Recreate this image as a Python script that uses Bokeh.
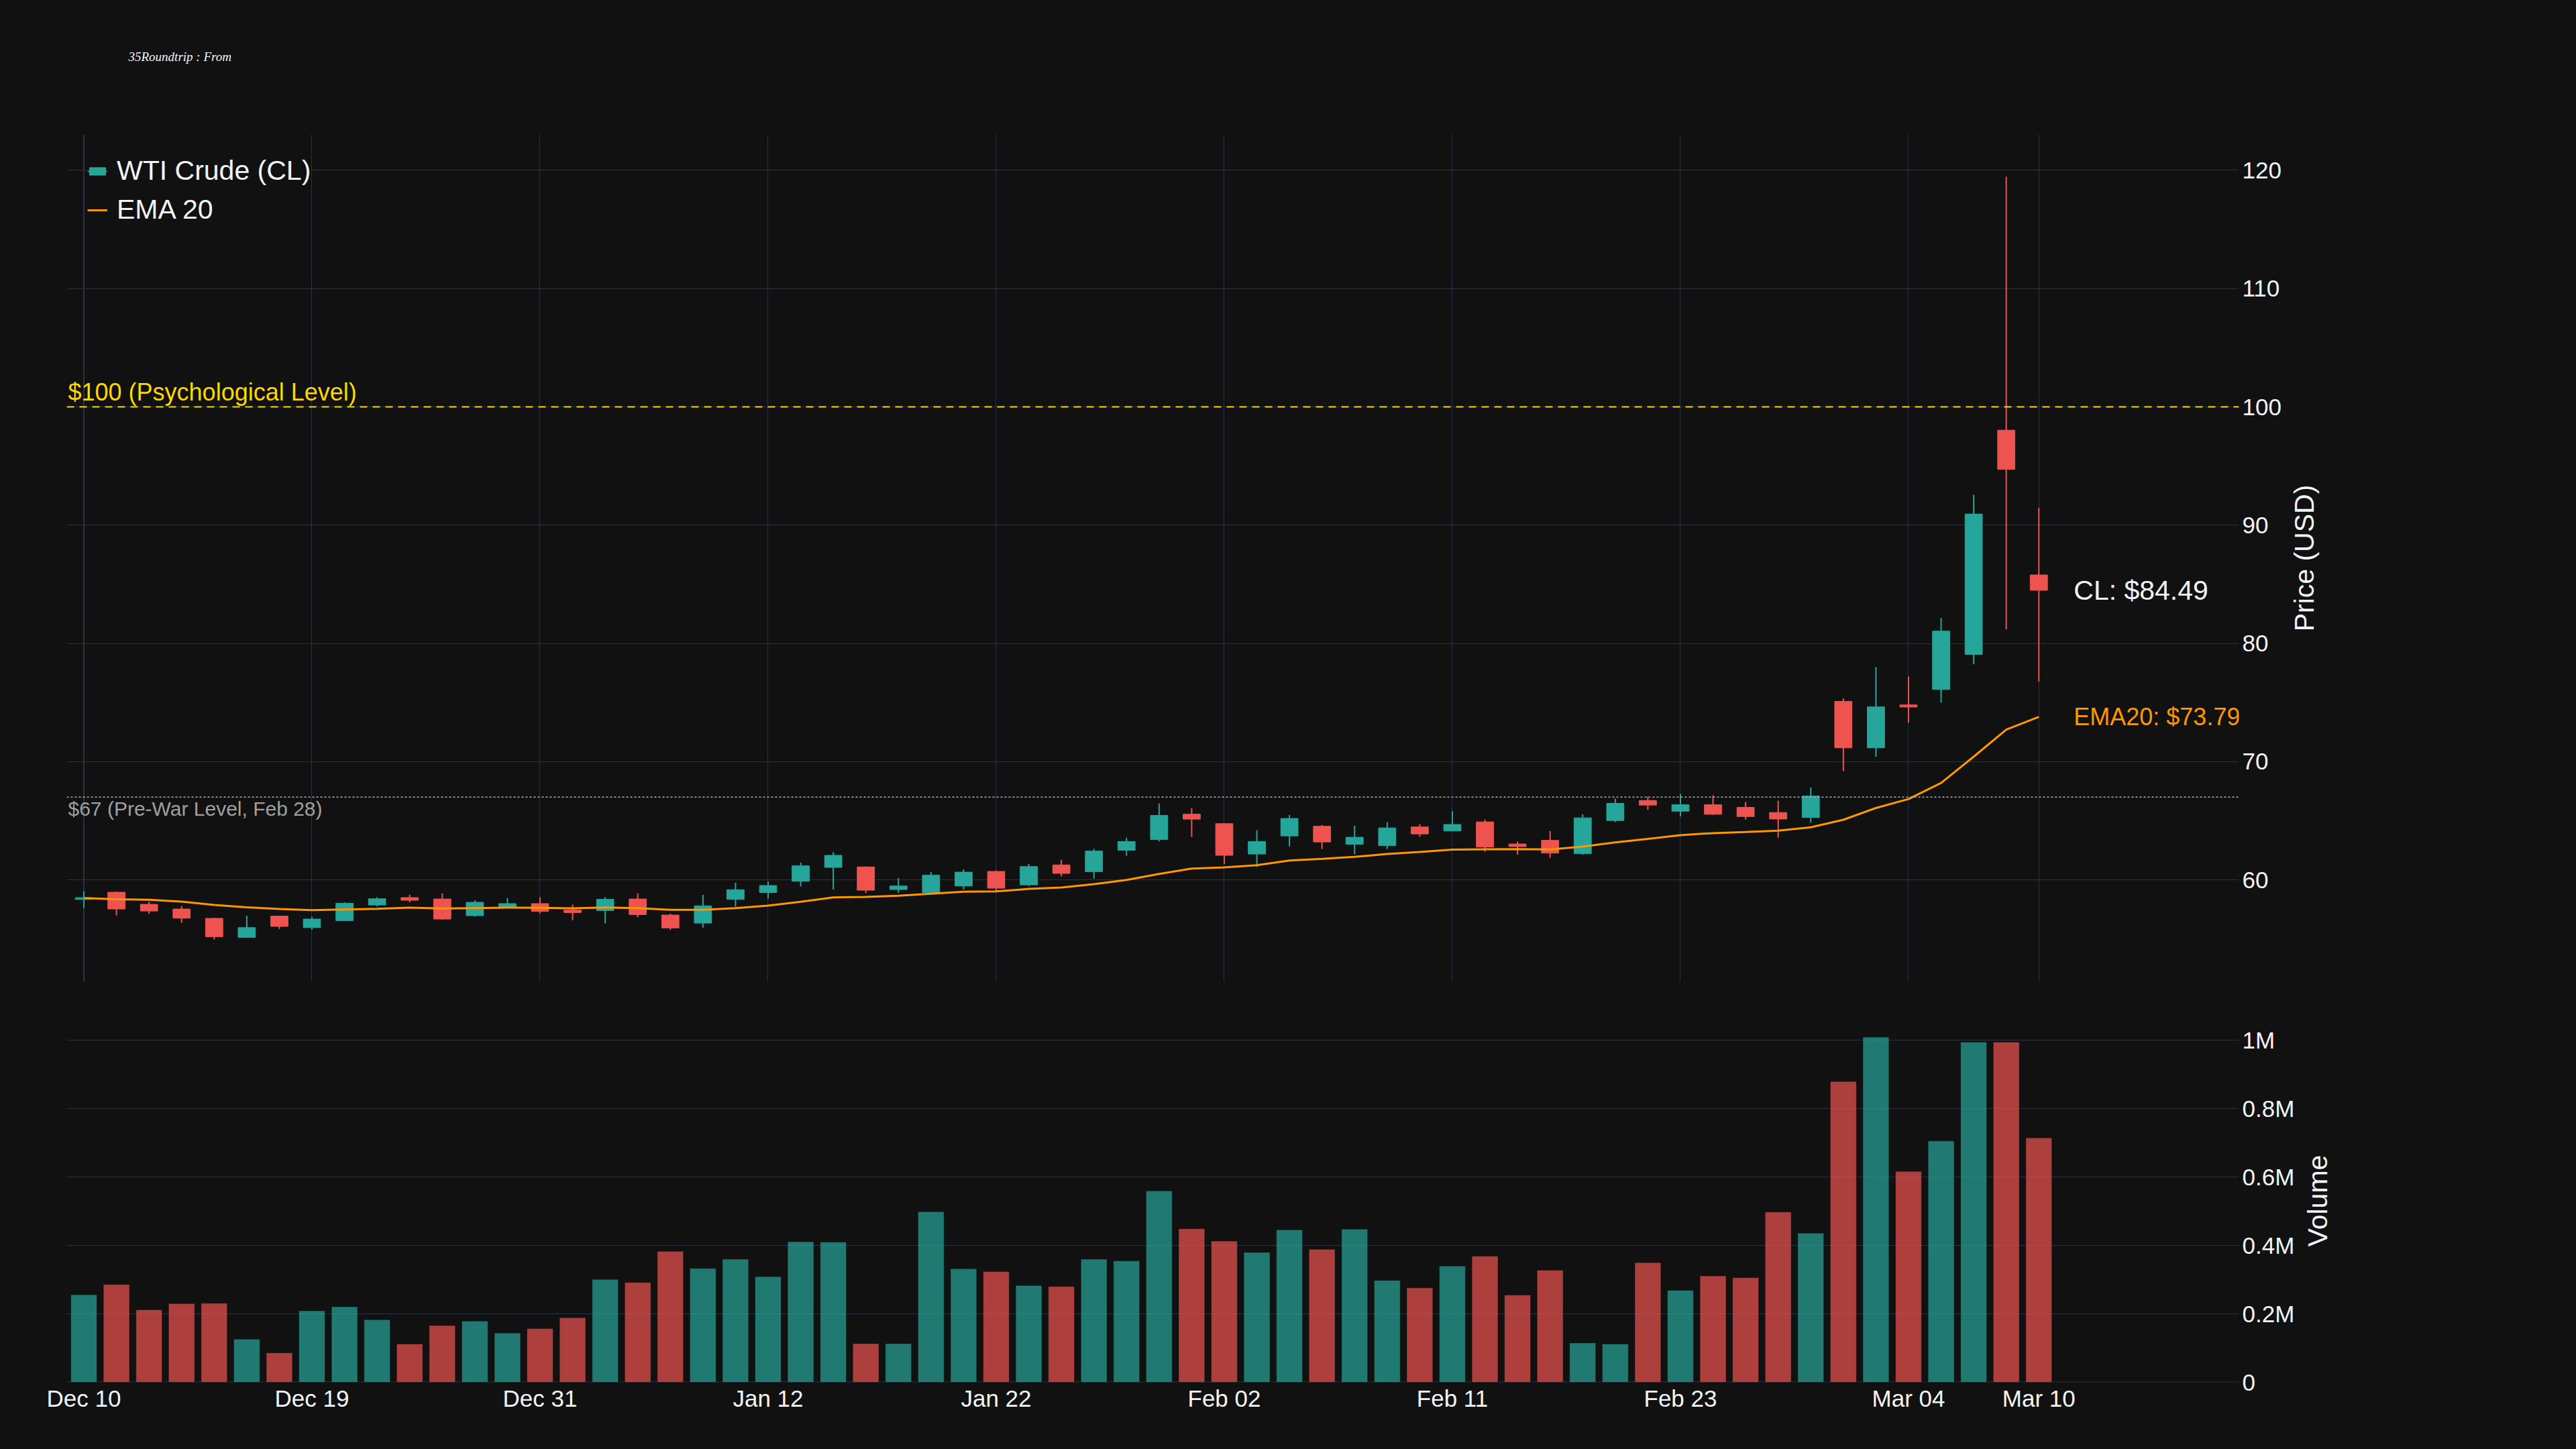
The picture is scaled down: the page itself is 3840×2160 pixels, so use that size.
import math
from datetime import datetime

from bokeh.plotting import figure
from bokeh.models import (Range1d, FixedTicker, Span, Label, Legend,
                          LegendItem, ColumnDataSource)
from bokeh.layouts import column
from bokeh.embed import file_html
from bokeh.resources import INLINE

# ---------------- data ----------------
dates = [
    "2025-12-10", "2025-12-11", "2025-12-12", "2025-12-15", "2025-12-16", "2025-12-17", "2025-12-18", "2025-12-19",
    "2025-12-22", "2025-12-23", "2025-12-24", "2025-12-26", "2025-12-29", "2025-12-30", "2025-12-31",
    "2026-01-02", "2026-01-05", "2026-01-06", "2026-01-07", "2026-01-08", "2026-01-09", "2026-01-12",
    "2026-01-13", "2026-01-14", "2026-01-15", "2026-01-16", "2026-01-20", "2026-01-21", "2026-01-22",
    "2026-01-23", "2026-01-26", "2026-01-27", "2026-01-28", "2026-01-29", "2026-01-30", "2026-02-02",
    "2026-02-03", "2026-02-04", "2026-02-05", "2026-02-06", "2026-02-09", "2026-02-10", "2026-02-11",
    "2026-02-12", "2026-02-13", "2026-02-17", "2026-02-18", "2026-02-19", "2026-02-20", "2026-02-23",
    "2026-02-24", "2026-02-25", "2026-02-26", "2026-02-27", "2026-03-02", "2026-03-03", "2026-03-04",
    "2026-03-05", "2026-03-06", "2026-03-09", "2026-03-10",
]

opens = [58.35, 58.96, 57.94, 57.54, 56.75, 55.14, 56.94, 55.97, 56.56, 57.88,
         58.51, 58.39, 56.98, 57.66, 58.00, 57.45, 57.41, 58.39, 57.03, 56.35,
         58.36, 58.94, 59.89, 61.06, 61.10, 59.19, 58.94, 59.49, 60.72, 59.58,
         61.27, 60.70, 62.51, 63.42, 65.56, 64.76, 62.19, 63.72, 64.54, 63.02,
         62.91, 64.48, 64.14, 64.91, 63.04, 63.35, 62.23, 65.02, 66.72, 65.81,
         66.36, 66.14, 65.70, 65.28, 75.10, 71.17, 74.80, 76.10, 79.06, 98.03,
         85.79]
highs = [59.05, 59.00, 58.17, 57.79, 56.80, 56.98, 56.96, 56.88, 58.11, 58.54,
         58.75, 58.87, 58.28, 58.47, 58.53, 57.92, 58.53, 58.87, 57.15, 58.73,
         59.75, 59.89, 61.47, 62.34, 61.15, 60.17, 60.68, 60.89, 60.81, 61.36,
         61.70, 62.63, 63.57, 66.47, 66.09, 64.80, 64.20, 65.50, 64.65, 64.59,
         64.88, 64.71, 65.82, 65.10, 63.25, 64.13, 65.55, 66.88, 67.05, 67.27,
         67.16, 66.59, 66.70, 67.82, 75.35, 78.00, 77.20, 82.15, 92.56, 119.45,
         91.46]
lows = [57.65, 57.00, 57.13, 56.37, 54.97, 55.10, 55.86, 55.80, 56.55, 57.75,
        58.11, 56.63, 56.90, 57.65, 57.18, 56.60, 56.31, 56.84, 55.77, 55.97,
        57.73, 58.43, 59.45, 59.19, 58.89, 58.92, 58.73, 59.21, 59.05, 59.49,
        60.30, 60.11, 62.04, 63.25, 63.63, 61.36, 61.10, 62.84, 62.61, 62.17,
        62.61, 63.65, 64.13, 62.38, 62.14, 61.88, 62.12, 64.89, 65.93, 65.38,
        65.51, 65.11, 63.58, 64.83, 69.20, 70.42, 73.30, 74.99, 78.24, 81.20,
        76.78]
closes = [58.50, 57.54, 57.37, 56.77, 55.20, 55.97, 56.07, 56.69, 58.03, 58.41,
          58.28, 56.69, 58.11, 58.00, 57.35, 57.24, 58.36, 57.07, 55.94, 57.81,
          59.17, 59.53, 61.19, 62.08, 59.13, 59.49, 60.40, 60.66, 59.30, 61.13,
          60.55, 62.44, 63.25, 65.46, 65.14, 62.08, 63.25, 65.20, 63.21, 63.61,
          64.40, 63.89, 64.69, 62.78, 62.82, 62.27, 65.25, 66.48, 66.33, 66.36,
          65.55, 65.36, 65.15, 67.10, 71.17, 74.63, 74.62, 81.04, 90.94, 94.71,
          84.49]
ema20 = [58.47, 58.37, 58.32, 58.17, 57.88, 57.69, 57.54, 57.45, 57.50, 57.56,
         57.66, 57.58, 57.62, 57.66, 57.64, 57.60, 57.67, 57.62, 57.47, 57.47,
         57.62, 57.83, 58.15, 58.52, 58.57, 58.66, 58.83, 59.00, 59.04, 59.24,
         59.36, 59.64, 60.00, 60.51, 60.96, 61.06, 61.25, 61.64, 61.78, 61.95,
         62.19, 62.36, 62.57, 62.59, 62.61, 62.58, 62.82, 63.18, 63.47, 63.79,
         63.96, 64.05, 64.17, 64.45, 65.09, 66.08, 66.84, 68.20, 70.42, 72.71,
         73.79]
volumes = [256000, 286000, 212000, 230000, 231000, 126000, 86000, 209000, 221000, 183000,
           112000, 166000, 179000, 144000, 157000, 189000, 301000, 292000, 383000, 333000,
           360000, 309000, 411000, 410000, 113000, 113000, 499000, 332000, 324000, 283000,
           280000, 360000, 355000, 560000, 449000, 413000, 380000, 446000, 389000, 448000,
           298000, 276000, 340000, 369000, 255000, 328000, 115000, 112000, 350000, 269000,
           311000, 306000, 498000, 436000, 880000, 1010000, 617000, 706000, 995000, 995000,
           715000]

price_ticks = [60, 70, 80, 90, 100, 110, 120]
volume_ticks = [0, 200000, 400000, 600000, 800000, 1000000]
volume_tick_labels = ["0", "0.2M", "0.4M", "0.6M", "0.8M", "1M"]
psych_level = 100
prewar_level = 67

title_text = "35Roundtrip : From"
legend_price = "WTI Crude (CL)"
legend_ema = "EMA 20"
psych_text = "$100 (Psychological Level)"
prewar_text = "$67 (Pre-War Level, Feb 28)"
price_axis_title = "Price (USD)"
volume_axis_title = "Volume"

# ---------------- style ----------------
BG = "#111111"
TXT = "#f2f5fa"
GRID = "#283442"
INC = "#26a69a"
DEC = "#ef5350"
ORANGE = "#ff9800"
GOLD = "#ffd700"
GRAY = "#a0a0a0"
FONT = "Liberation Sans"

n = len(dates)
idx = list(range(n))
labels = [datetime.strptime(d, "%Y-%m-%d").strftime("%b %d") for d in dates]
tick_idx = list(range(0, n, 7))
if (n - 1) not in tick_idx:
    tick_idx.append(n - 1)

W = 3830
ML = 99
FRAME_W = 3238
MR = W - ML - FRAME_W

x_range = Range1d(-0.525, 66.14)
price_range = Range1d(51.39, 123.03)
volume_range = Range1d(0, 1061800)


def style_right_axis(ax, ticks):
    ax.ticker = FixedTicker(ticks=ticks)
    ax.axis_line_color = None
    ax.major_tick_line_color = None
    ax.minor_tick_line_color = None
    ax.major_tick_out = 0
    ax.major_tick_in = 0
    ax.minor_tick_out = 0
    ax.major_label_text_font = FONT
    ax.major_label_text_font_size = "35px"
    ax.major_label_text_color = TXT
    ax.major_label_standoff = 5


def add_axis_title(fig, text, y_mid):
    # rotated axis title (reads bottom-to-top) placed in the right-hand panel
    fig.add_layout(Label(x=31, x_units="screen", y=y_mid, text=text,
                         angle=math.pi / 2, text_align="center", text_baseline="middle",
                         text_font=FONT, text_font_size="41px", text_color=TXT), "right")


# ---------------- title strip ----------------
# (its frame is aligned with the plot frames below, so x is in page pixels)
TITLE_H = 200
t = figure(width=W, height=TITLE_H, x_range=Range1d(ML, ML + FRAME_W), y_range=Range1d(0, TITLE_H),
           output_backend="svg", toolbar_location=None,
           x_axis_location=None, y_axis_location=None,
           min_border_left=0, min_border_right=0, min_border_top=0, min_border_bottom=0,
           background_fill_color=BG, border_fill_color=BG, outline_line_color=None)
t.grid.grid_line_color = None
t.add_layout(Label(x=191, y=TITLE_H - 84, text=title_text, text_color=TXT,
                   text_font="Liberation Serif", text_font_style="italic",
                   text_font_size="19px", text_baseline="middle"))

# ---------------- price panel ----------------
p = figure(width=W, height=1290, x_range=x_range, y_range=price_range,
           output_backend="svg", toolbar_location=None,
           x_axis_location=None, y_axis_location="right",
           min_border_left=ML, min_border_right=MR,
           min_border_top=0, min_border_bottom=27,
           background_fill_color=BG, border_fill_color=BG, outline_line_color=None)

style_right_axis(p.yaxis[0], price_ticks)
add_axis_title(p, price_axis_title, (price_range.start + price_range.end) / 2)
p.ygrid.grid_line_color = GRID
p.ygrid.grid_line_width = 1
p.xgrid.ticker = FixedTicker(ticks=tick_idx)
p.xgrid.grid_line_color = GRID
p.xgrid.grid_line_width = 1
p.add_layout(Span(location=0, dimension="height", line_color=GRID,
                  line_width=2, level="underlay"))

inc_ids = [i for i in idx if closes[i] >= opens[i]]
dec_ids = [i for i in idx if closes[i] < opens[i]]


def candle_source(ids):
    return ColumnDataSource(dict(
        x=ids,
        high=[highs[i] for i in ids],
        low=[lows[i] for i in ids],
        top=[max(opens[i], closes[i]) for i in ids],
        bottom=[min(opens[i], closes[i]) for i in ids],
    ))


inc_src = candle_source(inc_ids)
dec_src = candle_source(dec_ids)

inc_wick = p.segment(x0="x", y0="low", x1="x", y1="high", source=inc_src,
                     line_color=INC, line_width=2)
dec_wick = p.segment(x0="x", y0="low", x1="x", y1="high", source=dec_src,
                     line_color=DEC, line_width=2)
inc_body = p.vbar(x="x", width=0.53, top="top", bottom="bottom", source=inc_src,
                  fill_color=INC, line_color=INC, line_width=1)
dec_body = p.vbar(x="x", width=0.53, top="top", bottom="bottom", source=dec_src,
                  fill_color=DEC, line_color=DEC, line_width=1)

ema_r = p.line(x=idx, y=ema20, line_color=ORANGE, line_width=3)

p.add_layout(Span(location=psych_level, dimension="width", line_color=GOLD,
                  line_width=2, line_dash="11 8"))
p.add_layout(Span(location=prewar_level, dimension="width", line_color="#b0b0b0",
                  line_width=1.5, line_dash="3 3"))

p.add_layout(Label(x=2, x_units="screen", y=psych_level, y_offset=22,
                   text=psych_text, text_color=GOLD, text_font=FONT,
                   text_font_size="36px", text_baseline="alphabetic"))
p.add_layout(Label(x=2, x_units="screen", y=prewar_level, y_offset=-17,
                   text=prewar_text, text_color=GRAY, text_font=FONT,
                   text_font_size="30px", text_baseline="alphabetic"))
p.add_layout(Label(x=idx[-1], y=closes[-1], x_offset=52,
                   text=f"CL: ${closes[-1]:.2f}", text_color=TXT, text_font=FONT,
                   text_font_size="41px", text_baseline="middle", text_align="left"))
p.add_layout(Label(x=idx[-1], y=ema20[-1], x_offset=52,
                   text=f"EMA20: ${ema20[-1]:.2f}", text_color=ORANGE, text_font=FONT,
                   text_font_size="36px", text_baseline="middle", text_align="left"))

legend = Legend(items=[LegendItem(label=legend_price, renderers=[inc_wick, inc_body]),
                       LegendItem(label=legend_ema, renderers=[ema_r])],
                location="top_left", margin=31, padding=12, spacing=11,
                glyph_width=30, glyph_height=14, label_standoff=14, label_height=46,
                label_text_font=FONT, label_text_font_size="41px", label_text_color=TXT,
                background_fill_color=BG, background_fill_alpha=1.0,
                border_line_color=None)
p.add_layout(legend)

# ---------------- volume panel ----------------
v = figure(width=W, height=650, x_range=x_range, y_range=volume_range,
           output_backend="svg", toolbar_location=None,
           y_axis_location="right",
           min_border_left=ML, min_border_right=MR,
           min_border_top=29, min_border_bottom=80,
           background_fill_color=BG, border_fill_color=BG, outline_line_color=None)

vol_colors = [INC if closes[i] >= opens[i] else DEC for i in idx]
v.vbar(x=idx, top=volumes, width=0.8, fill_color=vol_colors, fill_alpha=0.7,
       line_color=BG, line_width=0.5)

style_right_axis(v.yaxis[0], volume_ticks)
v.yaxis[0].major_label_overrides = {tk: s for tk, s in zip(volume_ticks, volume_tick_labels)}
add_axis_title(v, volume_axis_title, (volume_range.start + volume_range.end) / 2)
v.ygrid.grid_line_color = GRID
v.ygrid.grid_line_width = 1
v.xgrid.grid_line_color = None
v.add_layout(Span(location=0, dimension="width", line_color=GRID,
                  line_width=2, level="underlay"))

xa = v.xaxis[0]
xa.ticker = FixedTicker(ticks=tick_idx)
xa.major_label_overrides = {i: labels[i] for i in tick_idx}
xa.axis_line_color = None
xa.major_tick_line_color = None
xa.minor_tick_line_color = None
xa.major_tick_out = 0
xa.major_tick_in = 0
xa.minor_tick_out = 0
xa.major_label_text_font = FONT
xa.major_label_text_font_size = "35px"
xa.major_label_text_color = TXT
xa.major_label_standoff = 4

layout = column(t, p, v)

html = file_html(layout, INLINE)
html = html.replace("<head>", "<head><style>html, body { background: #111111; }</style>", 1)
with open("out.html", "w") as f:
    f.write(html)
